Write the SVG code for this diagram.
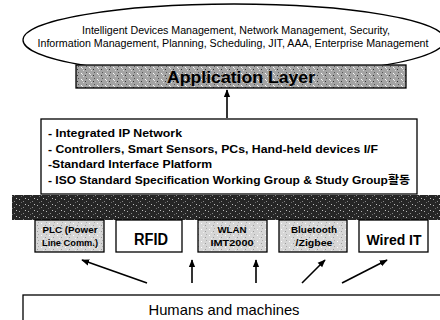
<svg xmlns="http://www.w3.org/2000/svg" width="440" height="320" viewBox="0 0 440 320">
<defs>
<style>
.t{font-family:"Liberation Sans","Noto Sans CJK KR",Arial,sans-serif;fill:#000}
.b{font-weight:bold}
.box{fill:#fff;stroke:#000;stroke-width:1.3}
.sbox{fill:url(#lightTex);stroke:#000;stroke-width:1.3}
.arr{stroke:#000;stroke-width:1.6;fill:none;marker-end:url(#ah)}
</style>
<marker id="ah" viewBox="0 0 10 10" refX="9" refY="5" markerWidth="5" markerHeight="5" orient="auto">
<path d="M0,1 L10,5 L0,9 Z" fill="#000"/>
</marker>
<pattern id="lightTex" width="8" height="6" patternUnits="userSpaceOnUse">
<rect width="8" height="6" fill="#d6d6d6"/>
<rect x="1" y="1" width="1" height="1" fill="#fff"/>
<rect x="5" y="3" width="1" height="1" fill="#9a9a9a"/>
<rect x="3" y="4" width="1" height="1" fill="#eee"/>
<rect x="6" y="0" width="1" height="1" fill="#aaa"/>
</pattern>
<pattern id="midTex" width="8" height="6" patternUnits="userSpaceOnUse">
<rect width="8" height="6" fill="#a4a4a4"/>
<rect x="1" y="1" width="1" height="1" fill="#fff"/>
<rect x="5" y="3" width="1" height="1" fill="#333"/>
<rect x="3" y="4" width="1" height="1" fill="#ddd"/>
<rect x="6" y="0" width="1" height="1" fill="#555"/>
<rect x="2" y="2" width="1" height="1" fill="#e8e8e8"/>
</pattern>
<pattern id="darkTex" width="9" height="6" patternUnits="userSpaceOnUse">
<rect width="9" height="6" fill="#262626"/>
<rect x="1" y="1" width="1" height="1" fill="#b0b0b0"/>
<rect x="5" y="3" width="1" height="1" fill="#888"/>
<rect x="3" y="4" width="1" height="1" fill="#6a6a6a"/>
<rect x="7" y="0" width="1" height="1" fill="#c0c0c0"/>
</pattern>
</defs>

<g id="connectors">
<line class="arr" x1="227" y1="118" x2="227" y2="90"/>
<line class="arr" x1="147" y1="283" x2="82" y2="260"/>
<line class="arr" x1="192" y1="283" x2="192" y2="260"/>
<line class="arr" x1="256" y1="283" x2="256" y2="260"/>
<line class="arr" x1="302" y1="283" x2="325" y2="260"/>
<line class="arr" x1="342" y1="283" x2="387" y2="260"/>
</g>

<g id="functions">
<ellipse cx="234" cy="40" rx="211" ry="36" fill="#fff" stroke="#000" stroke-width="1.3"/>
<text class="t" x="236" y="34" font-size="10" text-anchor="middle" textLength="308" lengthAdjust="spacingAndGlyphs">Intelligent Devices Management, Network Management, Security,</text>
<text class="t" x="233" y="47" font-size="10" text-anchor="middle" textLength="391" lengthAdjust="spacingAndGlyphs">Information Management, Planning, Scheduling, JIT, AAA, Enterprise Management</text>
</g>

<g id="application-layer">
<rect x="76" y="65" width="330" height="23" fill="url(#midTex)" stroke="#000" stroke-width="1.3"/>
<text class="t b" x="241" y="83" font-size="17" text-anchor="middle" textLength="148" lengthAdjust="spacingAndGlyphs">Application Layer</text>
</g>

<g id="network-box">
<rect class="box" x="41" y="119" width="376" height="75"/>
<text class="t b" x="48" y="137" font-size="11.5" textLength="134" lengthAdjust="spacingAndGlyphs">- Integrated IP Network</text>
<text class="t b" x="48" y="153" font-size="11.5" textLength="330" lengthAdjust="spacingAndGlyphs">- Controllers, Smart Sensors, PCs, Hand-held devices I/F</text>
<text class="t b" x="48" y="168" font-size="11.5" textLength="164" lengthAdjust="spacingAndGlyphs">-Standard Interface Platform</text>
<text class="t b" x="48" y="184" font-size="11.5" textLength="362" lengthAdjust="spacingAndGlyphs">- ISO Standard Specification Working Group &amp; Study Group활동</text>
</g>

<g id="dark-bar">
<rect x="12" y="195" width="428" height="25" fill="url(#darkTex)"/>
</g>

<g id="plc">
<rect class="sbox" x="35" y="220" width="69" height="32"/>
<text class="t b" x="70" y="233" font-size="8.5" text-anchor="middle" textLength="55" lengthAdjust="spacingAndGlyphs">PLC (Power</text>
<text class="t b" x="70" y="246" font-size="8.5" text-anchor="middle" textLength="56" lengthAdjust="spacingAndGlyphs">Line Comm.)</text>
</g>
<g id="rfid">
<rect class="box" x="116" y="220" width="66" height="32"/>
<text class="t b" x="151" y="245" font-size="16" text-anchor="middle" textLength="34" lengthAdjust="spacingAndGlyphs">RFID</text>
</g>
<g id="wlan">
<rect class="sbox" x="198" y="220" width="69" height="32"/>
<text class="t b" x="232" y="233" font-size="8.5" text-anchor="middle" textLength="29" lengthAdjust="spacingAndGlyphs">WLAN</text>
<text class="t b" x="232" y="246" font-size="8.5" text-anchor="middle" textLength="43" lengthAdjust="spacingAndGlyphs">IMT2000</text>
</g>
<g id="bluetooth">
<rect class="sbox" x="279" y="220" width="68" height="32"/>
<text class="t b" x="314" y="233" font-size="8.5" text-anchor="middle" textLength="46" lengthAdjust="spacingAndGlyphs">Bluetooth</text>
<text class="t b" x="314" y="246" font-size="8.5" text-anchor="middle" textLength="37" lengthAdjust="spacingAndGlyphs">/Zigbee</text>
</g>
<g id="wired">
<rect class="box" x="359" y="220" width="69" height="32"/>
<text class="t b" x="394" y="245" font-size="15" text-anchor="middle" textLength="55" lengthAdjust="spacingAndGlyphs">Wired IT</text>
</g>

<g id="humans">
<rect class="box" x="23" y="295" width="420" height="30"/>
<text class="t" x="224" y="315" font-size="14.5" text-anchor="middle" textLength="151" lengthAdjust="spacingAndGlyphs">Humans and machines</text>
</g>
</svg>
